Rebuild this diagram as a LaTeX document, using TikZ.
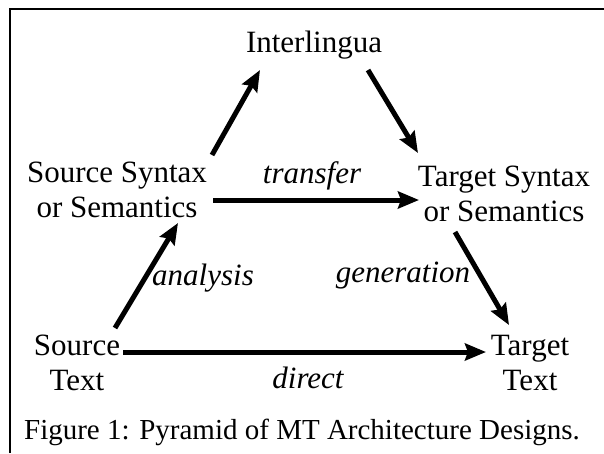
\documentclass[tikz,border=0pt]{standalone}
\usepackage{fontspec}
\setmainfont{Liberation Serif}
\usetikzlibrary{arrows.meta}
\begin{document}
\begin{tikzpicture}[x=1pt,y=-1pt,
  lbl/.style={font=\fontsize{31}{35}\selectfont, align=center, anchor=base, inner sep=0pt},
  caplbl/.style={font=\fontsize{29}{33}\selectfont, anchor=base, inner sep=0pt},
  edgelbl/.style={font=\fontsize{31}{35}\selectfont\itshape, anchor=base, inner sep=0pt},
  arr/.style={line width=5pt, -{Stealth[length=21pt,width=17pt,inset=3pt]}},
  frame/.style={line width=2pt}]
\useasboundingbox (0,0) rectangle (604,453);
\draw[frame] (10,453) -- (10,9) -- (604,9);
\node[lbl] (il) at (314,52) {Interlingua};
\node[lbl] (ss) at (117,217) {Source Syntax\\or Semantics};
\node[lbl] (ts) at (504,221) {Target Syntax\\or Semantics};
\node[lbl] (st) at (77,390) {Source\\Text};
\node[lbl] (tt) at (530,390) {Target\\Text};
\node[caplbl] (cap) at (302,439) {Figure 1: Pyramid of MT Architecture Designs.};
\node[edgelbl] (ltr) at (312,183) {transfer};
\node[edgelbl] (lan) at (203,285) {analysis};
\node[edgelbl] (lge) at (403,282) {generation};
\node[edgelbl] (ldi) at (308,388) {direct};
\coordinate (a1) at (212,155); \coordinate (a2) at (260,70);
\coordinate (b1) at (368,70);  \coordinate (b2) at (418,153);
\coordinate (c1) at (213,200); \coordinate (c2) at (419,200);
\coordinate (d1) at (115,328); \coordinate (d2) at (178,223);
\coordinate (e1) at (455,232); \coordinate (e2) at (509,325);
\coordinate (f1) at (123,352); \coordinate (f2) at (486,352);
\draw[arr] (a1) -- (a2);
\draw[arr] (b1) -- (b2);
\draw[arr] (c1) -- (c2);
\draw[arr] (d1) -- (d2);
\draw[arr] (e1) -- (e2);
\draw[arr] (f1) -- (f2);
\end{tikzpicture}
\end{document}
